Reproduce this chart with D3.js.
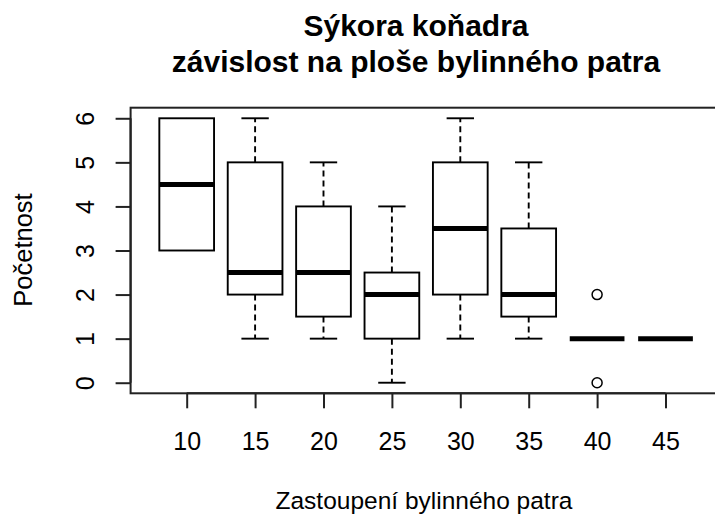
<!DOCTYPE html>
<html>
<head>
<meta charset="utf-8">
<script src="https://cdn.jsdelivr.net/npm/d3@7"></script>
<style>
  body { margin: 0; background: #fff; }
  text { font-family: "Liberation Sans", Arial, sans-serif; }
</style>
</head>
<body>
<script>
// plocha bylinného patra (skupiny)
let groups = ["10", "15", "20", "25", "30", "35", "40", "45"];
// dolní vous, Q1, medián, Q3, horní vous
let whiskLow = [3, 1, 1, 0, 1, 1, 1, 1];
let q1 = [3, 2, 1.5, 1, 2, 1.5, 1, 1];
let medians = [4.5, 2.5, 2.5, 2, 3.5, 2, 1, 1];
let q3 = [6, 5, 4, 2.5, 5, 3.5, 1, 1];
let whiskHigh = [6, 6, 5, 4, 6, 5, 1, 1];
// odlehlé hodnoty [skupina, hodnota]
let outliers = [["40", 0], ["40", 2]];
let yTicks = [0, 1, 2, 3, 4, 5, 6];

let canvasW = 715;
let canvasH = 515;

let svg = d3.select("body").append("svg")
  .attr("width", canvasW)
  .attr("height", canvasH);

let x = d3.scaleLinear().domain([0.18, 8.82]).range([130.6, 721.6]);
let y = d3.scaleLinear().domain([-0.24, 6.24]).range([393.3, 107.7]);
let gx = g => x(groups.indexOf(g) + 1);
let step = x(2) - x(1);
let boxW = step * 0.8;
let capW = boxW * 0.5;
let lw = 1.9;

let stats = groups.map((g, i) => ({
  g: g, lo: whiskLow[i], q1: q1[i], med: medians[i], q3: q3[i], hi: whiskHigh[i]
}));

// rám
svg.append("rect")
  .attr("x", x.range()[0]).attr("y", y.range()[1])
  .attr("width", x.range()[1] - x.range()[0])
  .attr("height", y.range()[0] - y.range()[1])
  .attr("fill", "none").attr("stroke", "#222").attr("stroke-width", 2);

// osy
let yAxis = svg.append("g")
  .attr("transform", "translate(" + x.range()[0] + ",0)")
  .call(d3.axisLeft(y).tickValues(yTicks).tickFormat(d3.format("d")).tickSize(15));
yAxis.select(".domain").attr("d", "M0," + y(0) + "V" + y(6)).attr("stroke-width", 2).attr("stroke", "#222");
yAxis.selectAll(".tick line").attr("stroke-width", 2).attr("stroke", "#222");
yAxis.selectAll(".tick text")
  .attr("font-size", 25).attr("fill", "#000")
  .attr("x", 0).attr("dy", 0)
  .attr("text-anchor", "middle")
  .attr("transform", "translate(-37,0) rotate(-90)");

let xAxis = svg.append("g")
  .attr("transform", "translate(0," + y.range()[0] + ")")
  .call(d3.axisBottom(x).tickValues(d3.range(1, groups.length + 1)).tickFormat(i => groups[i - 1]).tickSize(15));
xAxis.select(".domain").attr("d", "M" + x(1) + ",0H" + x(8)).attr("stroke-width", 2).attr("stroke", "#222");
xAxis.selectAll(".tick line").attr("stroke-width", 2).attr("stroke", "#222");
xAxis.selectAll(".tick text").attr("font-size", 25).attr("fill", "#000")
  .attr("y", 57).attr("dy", 0);

// krabice
let boxes = svg.append("g").selectAll("g").data(stats).join("g");

boxes.append("line")
  .attr("x1", d => gx(d.g)).attr("x2", d => gx(d.g))
  .attr("y1", d => y(d.q3)).attr("y2", d => y(d.hi))
  .attr("stroke", "#000").attr("stroke-width", lw).attr("stroke-dasharray", "6,4");
boxes.append("line")
  .attr("x1", d => gx(d.g)).attr("x2", d => gx(d.g))
  .attr("y1", d => y(d.q1)).attr("y2", d => y(d.lo))
  .attr("stroke", "#000").attr("stroke-width", lw).attr("stroke-dasharray", "6,4");
boxes.filter(d => d.hi > d.q3).append("line")
  .attr("x1", d => gx(d.g) - capW / 2).attr("x2", d => gx(d.g) + capW / 2)
  .attr("y1", d => y(d.hi)).attr("y2", d => y(d.hi))
  .attr("stroke", "#000").attr("stroke-width", lw);
boxes.filter(d => d.lo < d.q1).append("line")
  .attr("x1", d => gx(d.g) - capW / 2).attr("x2", d => gx(d.g) + capW / 2)
  .attr("y1", d => y(d.lo)).attr("y2", d => y(d.lo))
  .attr("stroke", "#000").attr("stroke-width", lw);
boxes.append("rect")
  .attr("x", d => gx(d.g) - boxW / 2).attr("width", boxW)
  .attr("y", d => y(d.q3)).attr("height", d => y(d.q1) - y(d.q3))
  .attr("fill", "#fff").attr("stroke", "#000").attr("stroke-width", lw);
boxes.append("line")
  .attr("x1", d => gx(d.g) - boxW / 2).attr("x2", d => gx(d.g) + boxW / 2)
  .attr("y1", d => y(d.med)).attr("y2", d => y(d.med))
  .attr("stroke", "#000").attr("stroke-width", 5);

svg.append("g").selectAll("circle").data(outliers).join("circle")
  .attr("cx", d => gx(d[0])).attr("cy", d => y(d[1])).attr("r", 5)
  .attr("fill", "none").attr("stroke", "#000").attr("stroke-width", 1.5);

// popisky
let title = svg.append("text").attr("text-anchor", "middle")
  .attr("font-size", 30).attr("font-weight", "bold").attr("fill", "#000");
title.append("tspan").attr("x", 416).attr("y", 36).text("Sýkora koňadra");
title.append("tspan").attr("x", 416).attr("y", 72).text("závislost na ploše bylinného patra");

svg.append("text").attr("x", 424).attr("y", 509).attr("text-anchor", "middle")
  .attr("font-size", 24.5).attr("fill", "#000").text("Zastoupení bylinného patra");

svg.append("text").attr("transform", "translate(32,250) rotate(-90)")
  .attr("text-anchor", "middle").attr("font-size", 25.5).attr("fill", "#000").text("Početnost");
</script>
</body>
</html>
